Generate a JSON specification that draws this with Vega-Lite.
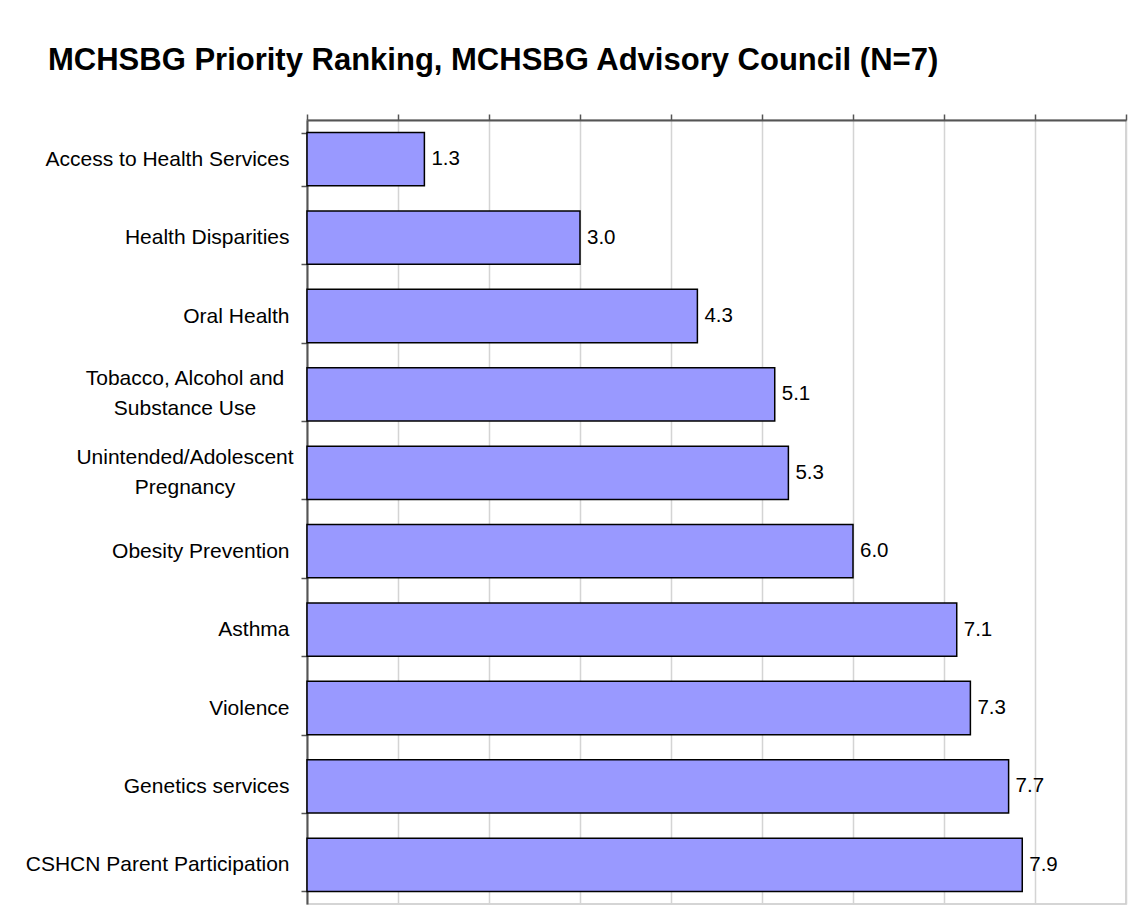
{
  "$schema": "https://vega.github.io/schema/vega-lite/v6.json",
  "width": 819,
  "height": 784,
  "autosize": {"type": "none"},
  "padding": {"left": 307, "top": 120, "right": 7, "bottom": 17},
  "background": "white",
  "title": {
    "text": "MCHSBG Priority Ranking, MCHSBG Advisory Council (N=7)",
    "anchor": "start",
    "frame": "group",
    "dx": -259,
    "font": "Liberation Sans",
    "fontSize": 31,
    "fontWeight": "bold",
    "color": "black",
    "offset": 32
  },
  "config": {
    "view": {"stroke": "#c8c8c8", "strokeWidth": 1.5},
    "font": "Liberation Sans"
  },
  "data": {
    "values": [
      {"priority": "Access to Health Services", "label": "Access to Health Services", "score": 1.29},
      {"priority": "Health Disparities", "label": "Health Disparities", "score": 3.0},
      {"priority": "Oral Health", "label": "Oral Health", "score": 4.29},
      {"priority": "Tobacco, Alcohol and Substance Use", "label": "Tobacco, Alcohol and\nSubstance Use", "score": 5.14},
      {"priority": "Unintended/Adolescent Pregnancy", "label": "Unintended/Adolescent\nPregnancy", "score": 5.29},
      {"priority": "Obesity Prevention", "label": "Obesity Prevention", "score": 6.0},
      {"priority": "Asthma", "label": "Asthma", "score": 7.14},
      {"priority": "Violence", "label": "Violence", "score": 7.29},
      {"priority": "Genetics services", "label": "Genetics services", "score": 7.71},
      {"priority": "CSHCN Parent Participation", "label": "CSHCN Parent Participation", "score": 7.86}
    ]
  },
  "encoding": {
    "y": {
      "field": "priority",
      "type": "nominal",
      "sort": null,
      "scale": {"paddingInner": 0.32, "paddingOuter": 0.16},
      "axis": {
        "title": null,
        "domainColor": "#555555",
        "domainWidth": 2,
        "tickColor": "#555555",
        "tickWidth": 1.5,
        "tickSize": 6,
        "tickBand": "extent",
        "labelFont": "Liberation Sans",
        "labelFontSize": 21,
        "labelColor": "black",
        "labelPadding": 12,
        "labelLimit": 0,
        "labelBaseline": "middle",
        "labelExpr": "datum.value == 'Tobacco, Alcohol and Substance Use' || datum.value == 'Unintended/Adolescent Pregnancy' ? '' : datum.value"
      }
    }
  },
  "layer": [
    {
      "mark": {"type": "bar", "fill": "#9999ff", "stroke": "black", "strokeWidth": 1.5},
      "encoding": {
        "x": {
          "field": "score",
          "type": "quantitative",
          "scale": {"domain": [0, 9], "nice": false},
          "axis": {
            "orient": "top",
            "values": [0, 1, 2, 3, 4, 5, 6, 7, 8, 9],
            "labels": false,
            "title": null,
            "domainColor": "#555555",
            "domainWidth": 2,
            "tickColor": "#555555",
            "tickSize": 6,
            "tickWidth": 1.5,
            "grid": true,
            "gridColor": "#d4d4d4",
            "gridWidth": 1.5
          }
        }
      }
    },
    {
      "mark": {"type": "text", "align": "left", "baseline": "middle", "dx": 7, "fontSize": 20.5, "font": "Liberation Sans", "color": "black"},
      "encoding": {
        "x": {"field": "score", "type": "quantitative"},
        "text": {"field": "score", "type": "quantitative", "format": ".1f"}
      }
    },
    {
      "transform": [{"filter": "datum.priority == 'Tobacco, Alcohol and Substance Use' || datum.priority == 'Unintended/Adolescent Pregnancy'"}],
      "mark": {"type": "text", "align": "center", "baseline": "middle", "dx": -122, "dy": -15, "lineBreak": "\n", "lineHeight": 30, "fontSize": 21, "font": "Liberation Sans", "color": "black"},
      "encoding": {
        "x": {"datum": 0, "type": "quantitative"},
        "text": {"field": "label", "type": "nominal"}
      }
    }
  ]
}
